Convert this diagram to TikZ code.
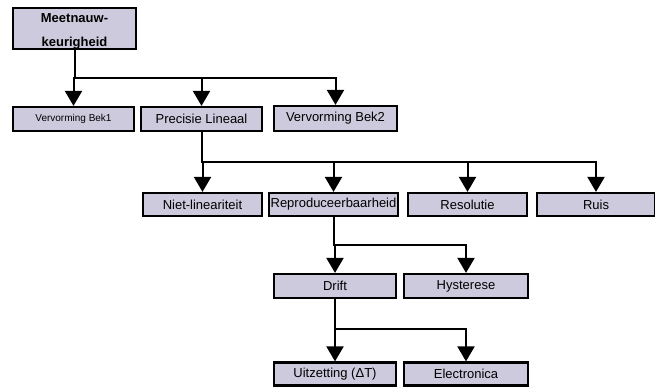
\documentclass[tikz,border=0pt]{standalone}
\usepackage{fontspec}
\setmainfont{Liberation Sans}
\usetikzlibrary{arrows.meta}
\definecolor{boxfill}{RGB}{204,202,220}
\begin{document}
\begin{tikzpicture}[x=1pt,y=-1pt,
  box/.style={draw=black, fill=boxfill, line width=2.2pt, inner sep=0pt, align=center, font=\fontsize{13}{15}\selectfont},
  arr/.style={line width=2pt, -{Triangle[width=17pt,length=15pt]}},
  toptext/.style={inner sep=0pt, align=center, font=\bfseries\fontsize{13}{24}\selectfont}]
\useasboundingbox (0,0) rectangle (655,386);
\node[box, minimum width=123pt, minimum height=41pt] (top) at (74.5,28.5) {};
\node[toptext] (toplabel) at (74.5,31) {Meetnauw-\\keurigheid};
\node[box, minimum width=121pt, minimum height=24pt, font=\fontsize{10}{12}\selectfont] (bek1) at (73.5,119) {Vervorming Bek1};
\node[box, minimum width=121pt, minimum height=24pt] (prec) at (201.5,119) {Precisie Lineaal};
\node[box, minimum width=123pt, minimum height=25pt] (bek2) at (335.5,118.5) {Vervorming Bek2};
\node[box, minimum width=119pt, minimum height=23pt] (niet) at (202.5,204.5) {Niet-lineariteit};
\node[box, minimum width=129pt, minimum height=23pt] (repro) at (333.5,204.5) {Reproduceerbaarheid};
\node[box, minimum width=119pt, minimum height=23pt] (reso) at (467.5,204.5) {Resolutie};
\node[box, minimum width=118pt, minimum height=23pt] (ruis) at (596,204.5) {Ruis};
\node[box, minimum width=122pt, minimum height=24pt] (drift) at (335,286) {Drift};
\node[box, minimum width=124pt, minimum height=24pt] (hyst) at (466,286) {Hysterese};
\node[box, minimum width=122pt, minimum height=23pt] (uitz) at (335,374) {Uitzetting (ΔT)};
\node[box, minimum width=124pt, minimum height=23pt] (elec) at (466,374) {Electronica};
% level 1
\coordinate (b1) at (0,78);
\foreach \c in {bek1,prec,bek2}{
  \draw[arr] (top.south) -- (top.south |- b1) -| (\c.north);
}
% level 2
\coordinate (b2) at (0,162);
\foreach \c in {niet,repro,reso,ruis}{
  \draw[arr] (prec.south) -- (prec.south |- b2) -| (\c.north);
}
% level 3
\coordinate (b3) at (0,245);
\foreach \c in {drift,hyst}{
  \draw[arr] (repro.south) -- (repro.south |- b3) -| (\c.north);
}
% level 4
\coordinate (b4) at (0,329);
\foreach \c in {uitz,elec}{
  \draw[arr] (drift.south) -- (drift.south |- b4) -| (\c.north);
}
\end{tikzpicture}
\end{document}
